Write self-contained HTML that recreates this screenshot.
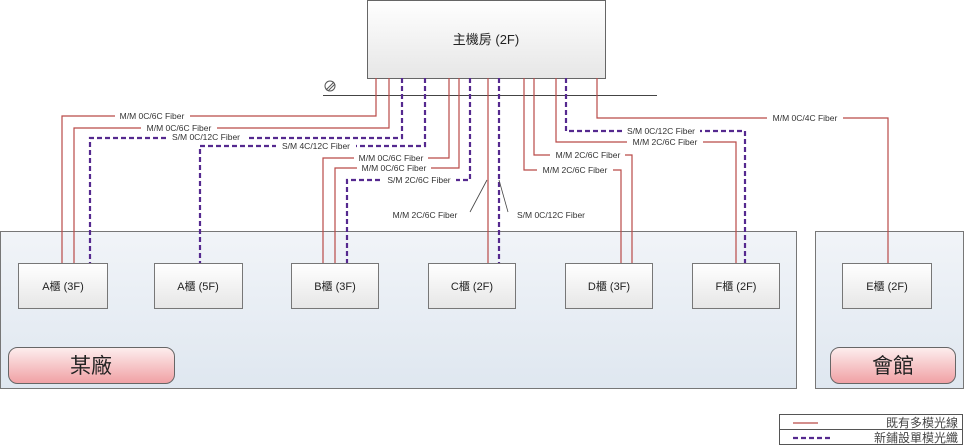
<!DOCTYPE html>
<html><head><meta charset="utf-8"><style>
html,body{margin:0;padding:0;background:#fff;}
svg{display:block;}
text{font-family:"Liberation Sans","Noto Sans CJK TC",sans-serif;}
</style></head><body>
<svg width="964" height="445" viewBox="0 0 964 445" xmlns="http://www.w3.org/2000/svg">
<defs>
<linearGradient id="pan" x1="0" y1="0" x2="0" y2="1"><stop offset="0" stop-color="#f1f4f8"/><stop offset="1" stop-color="#dfe7f0"/></linearGradient>
<linearGradient id="box" x1="0" y1="0" x2="0" y2="1"><stop offset="0" stop-color="#ffffff"/><stop offset="1" stop-color="#e6e6e6"/></linearGradient>
<linearGradient id="pill" x1="0" y1="0" x2="0" y2="1"><stop offset="0" stop-color="#fdeeee"/><stop offset="1" stop-color="#f0a0a4"/></linearGradient>
</defs>
<rect x="0.5" y="231.5" width="796" height="157" fill="url(#pan)" stroke="#777"/>
<rect x="815.5" y="231.5" width="148" height="157" fill="url(#pan)" stroke="#777"/>
<rect x="367.5" y="0.5" width="238" height="78" fill="url(#box)" stroke="#666"/>
<text x="486" y="44" font-size="13" text-anchor="middle" fill="#222">主機房 (2F)</text>
<line x1="323" y1="95.5" x2="657" y2="95.5" stroke="#444" stroke-width="1"/>
<circle cx="330" cy="86" r="5" fill="none" stroke="#555"/>
<line x1="326" y1="90" x2="334" y2="82" stroke="#555"/>
<line x1="328" y1="91" x2="335" y2="84" stroke="#555"/>
<g fill="none" stroke="#b94a48" stroke-width="1.2">
<polyline points="376,78 376,116 62,116 62,263"/>
<polyline points="389,78 389,128 74,128 74,263"/>
<polyline points="449,78 449,158 323,158 323,263"/>
<polyline points="459,78 459,168 335,168 335,263"/>
<polyline points="488,78 488,263"/>
<polyline points="524,78 524,170 621,170 621,263"/>
<polyline points="534,78 534,155 632,155 632,263"/>
<polyline points="556,78 556,142 736,142 736,263"/>
<polyline points="597,78 597,118 888,118 888,263"/>
</g>
<g fill="none" stroke="#55298f" stroke-width="2.2" stroke-dasharray="5,3">
<polyline points="402,78 402,138 90,138 90,263"/>
<polyline points="425,78 425,146 200,146 200,263"/>
<polyline points="470,78 470,180 347,180 347,263"/>
<polyline points="499,78 499,263"/>
<polyline points="566,78 566,131 745,131 745,263"/>
</g>
<line x1="470" y1="212" x2="487" y2="180" stroke="#444" stroke-width="0.8"/>
<line x1="508" y1="212" x2="499" y2="180" stroke="#444" stroke-width="0.8"/>
<g font-size="8.5" fill="#333">
<g text-anchor="middle">
<rect x="115" y="112" width="75" height="8" fill="#fff"/><text x="152" y="119">M/M 0C/6C Fiber</text>
<rect x="141" y="124" width="76" height="8" fill="#fff"/><text x="179" y="131">M/M 0C/6C Fiber</text>
<rect x="166" y="133" width="80" height="9" fill="#fff"/><text x="206" y="140">S/M 0C/12C Fiber</text>
<rect x="276" y="142" width="80" height="9" fill="#fff"/><text x="316" y="149">S/M 4C/12C Fiber</text>
<rect x="354" y="154" width="74" height="8" fill="#fff"/><text x="391" y="161">M/M 0C/6C Fiber</text>
<rect x="357" y="164" width="74" height="8" fill="#fff"/><text x="394" y="171">M/M 0C/6C Fiber</text>
<rect x="382" y="176" width="74" height="8" fill="#fff"/><text x="419" y="183">S/M 2C/6C Fiber</text>
<rect x="767" y="114" width="76" height="8" fill="#fff"/><text x="805" y="121">M/M 0C/4C Fiber</text>
<rect x="622" y="127" width="78" height="8" fill="#fff"/><text x="661" y="134">S/M 0C/12C Fiber</text>
<rect x="627" y="138" width="76" height="8" fill="#fff"/><text x="665" y="145">M/M 2C/6C Fiber</text>
<rect x="550" y="151" width="75" height="8" fill="#fff"/><text x="588" y="158">M/M 2C/6C Fiber</text>
<rect x="537" y="166" width="76" height="8" fill="#fff"/><text x="575" y="173">M/M 2C/6C Fiber</text>
<text x="425" y="218">M/M 2C/6C Fiber</text>
<text x="551" y="218">S/M 0C/12C Fiber</text>
</g></g>
<g stroke="#777" fill="url(#box)">
<rect x="18.5" y="263.5" width="89" height="45"/>
<rect x="154.5" y="263.5" width="88" height="45"/>
<rect x="291.5" y="263.5" width="87" height="45"/>
<rect x="428.5" y="263.5" width="87" height="45"/>
<rect x="565.5" y="263.5" width="87" height="45"/>
<rect x="692.5" y="263.5" width="87" height="45"/>
<rect x="842.5" y="263.5" width="89" height="45"/>
</g>
<g font-size="11" fill="#222" text-anchor="middle">
<text x="63" y="290">A櫃 (3F)</text>
<text x="198" y="290">A櫃 (5F)</text>
<text x="335" y="290">B櫃 (3F)</text>
<text x="472" y="290">C櫃 (2F)</text>
<text x="609" y="290">D櫃 (3F)</text>
<text x="736" y="290">F櫃 (2F)</text>
<text x="887" y="290">E櫃 (2F)</text>
</g>
<rect x="8.5" y="347.5" width="166" height="36" rx="9" fill="url(#pill)" stroke="#666"/>
<rect x="830.5" y="347.5" width="125" height="36" rx="9" fill="url(#pill)" stroke="#666"/>
<g font-size="21" fill="#222" text-anchor="middle" style="font-family:'Noto Serif CJK SC','Noto Serif CJK TC',serif">
<text x="91" y="373">某廠</text>
<text x="893" y="373">會館</text>
</g>
<rect x="779.5" y="414.5" width="183" height="30" fill="#fff" stroke="#555"/>
<line x1="780" y1="429.5" x2="963" y2="429.5" stroke="#555"/>
<line x1="793" y1="423" x2="818" y2="423" stroke="#b94a48" stroke-width="1.2"/>
<line x1="793" y1="438" x2="832" y2="438" stroke="#55298f" stroke-width="2.2" stroke-dasharray="5,3"/>
<g font-size="12" fill="#444" text-anchor="end" style="font-family:'Noto Serif CJK SC','Noto Serif CJK TC',serif">
<text x="958" y="427">既有多模光線</text>
<text x="958" y="442">新鋪設單模光纖</text>
</g>
</svg>
</body></html>
